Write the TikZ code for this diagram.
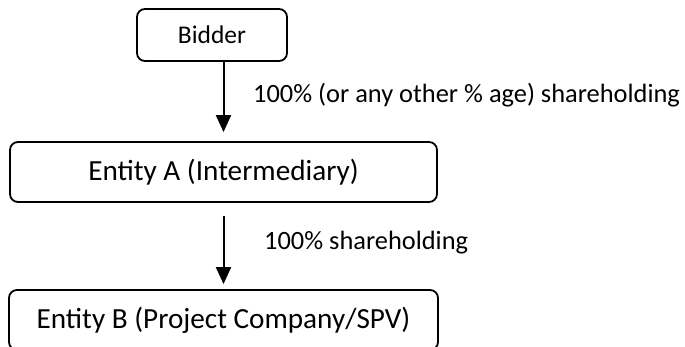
\documentclass[tikz,border=0pt]{standalone}
\usepackage{fontspec}
\setmainfont{Carlito}
\usetikzlibrary{arrows.meta}

\tikzset{
  entitybox/.style={draw=black, line width=1.8pt, rounded corners=8pt,
    inner sep=0pt, align=center},
  holding/.style={-{Triangle[width=15pt,length=17pt]}, line width=2pt},
  holdlabel/.style={anchor=west, inner sep=0pt,
    font=\fontsize{26.4}{30}\selectfont},
}

\begin{document}
\begin{tikzpicture}[x=1pt, y=-1pt]
  \useasboundingbox (0,0) rectangle (685,347);

  % ownership chain
  \node[entitybox, minimum width=150pt, minimum height=52pt,
        font=\fontsize{25.5}{30}\selectfont] (bidder) at (212,35) {Bidder};
  \node[entitybox, minimum width=427pt, minimum height=60pt,
        font=\fontsize{29.2}{34}\selectfont] (entA) at (223.5,172)
        {Entity A (Intermediary)};
  \node[entitybox, minimum width=429pt, minimum height=60pt,
        font=\fontsize{29.2}{34}\selectfont] (entB) at (223.5,320)
        {Entity B (Project Company/SPV)};

  % shareholding links
  \draw[holding, shorten >=9pt] (entA.north |- bidder.south) -- (entA.north);
  \draw[holding, shorten <=13pt, shorten >=5pt] (entA.south) -- (entB.north);

  \node[holdlabel] (lab1) at (253,95) {100\% (or any other \% age) shareholding};
  \node[holdlabel] (lab2) at (264,243) {100\% shareholding};
\end{tikzpicture}
\end{document}
